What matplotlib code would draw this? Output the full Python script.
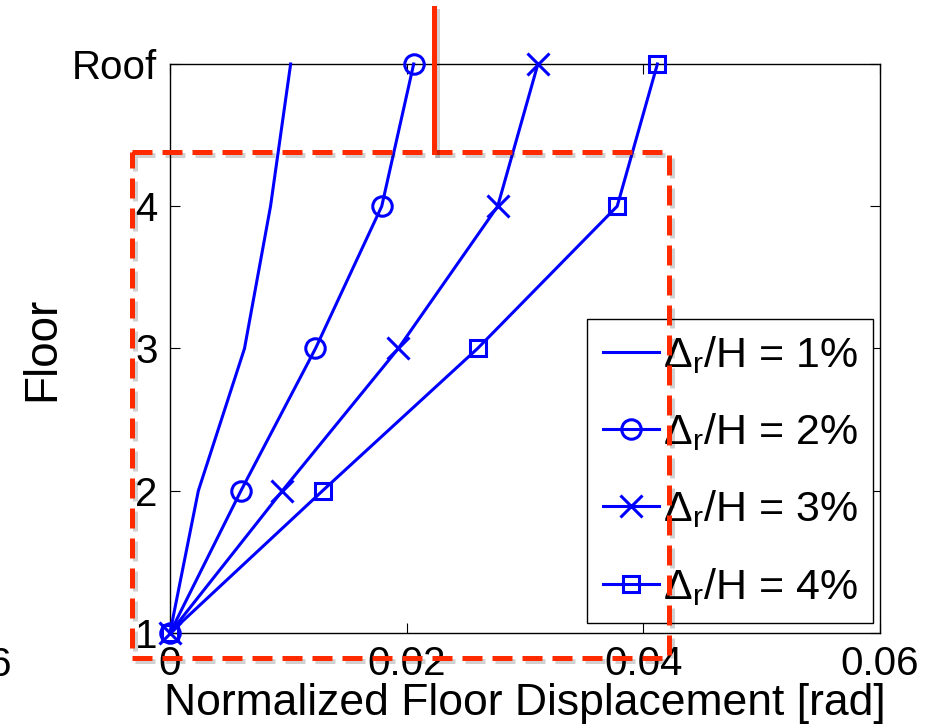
import matplotlib
matplotlib.use('Agg')
import matplotlib.pyplot as plt
import matplotlib.patheffects as pe

plt.rcParams['font.family'] = ['Liberation Sans', 'DejaVu Sans']
plt.rcParams['mathtext.fontset'] = 'custom'
plt.rcParams['mathtext.rm'] = 'Liberation Sans'
plt.rcParams['mathtext.it'] = 'Liberation Sans'

# data
floors = [1, 2, 3, 4, 5]
floor_labels = ['1', '2', '3', '4', 'Roof']
disp_1 = [0, 0.0024, 0.0063, 0.0085, 0.0102]
disp_2 = [0, 0.0060, 0.0123, 0.0179, 0.0206]
disp_3 = [0, 0.0095, 0.0193, 0.0277, 0.0311]
disp_4 = [0, 0.0129, 0.0260, 0.0378, 0.0412]
series_labels = [r'$\Delta_\mathrm{r}$/H = 1%', r'$\Delta_\mathrm{r}$/H = 2%',
                 r'$\Delta_\mathrm{r}$/H = 3%', r'$\Delta_\mathrm{r}$/H = 4%']
x_ticks = [0, 0.02, 0.04, 0.06]
x_ticklabels = ['0', '0.02', '0.04', '0.06']

fig = plt.figure(figsize=(9.39, 7.27), dpi=100)
ax = fig.add_axes([0.181, 0.1293, 0.756, 0.7827])

blue = '#0000ff'
kw = dict(color=blue, lw=2.2, clip_on=False, zorder=5)
ax.plot(disp_1, floors, label=series_labels[0], **kw)
ax.plot(disp_2, floors, marker='o', ms=14, mfc='none', mew=2.2, label=series_labels[1], **kw)
ax.plot(disp_3, floors, marker='x', ms=16, mew=2.2, label=series_labels[2], **kw)
ax.plot(disp_4, floors, marker='s', ms=11, mfc='none', mew=2.2, label=series_labels[3], **kw)

ax.set_xlim(0, 0.06)
ax.set_ylim(1, 5)
ax.set_xticks(x_ticks)
ax.set_xticklabels(x_ticklabels)
ax.set_yticks(floors)
ax.set_yticklabels(floor_labels)
ax.tick_params(direction='in', length=7, width=0.8, top=True, right=True,
               labelsize=29, pad=9)
for s in ax.spines.values():
    s.set_linewidth(1.0)
ax.set_xlabel('Normalized Floor Displacement [rad]', fontsize=32, labelpad=0)
ax.set_ylabel('Floor', fontsize=33, labelpad=6)

leg = ax.legend(loc='lower right', bbox_to_anchor=(0.99, 0.018), fontsize=31,
                numpoints=1, handlelength=1.3, handletextpad=0.1,
                borderpad=0.35, labelspacing=0.82, borderaxespad=0,
                fancybox=False, edgecolor='black', framealpha=1)
leg.get_frame().set_linewidth(1.0)
leg.set_zorder(6)

# piece of the neighbouring panel's tick label
fig.text(0.013, 1 - 665 / 727, '0.06', fontsize=29, ha='right', va='center')

# red annotation overlay
red = '#ff2a00'
shadow = [pe.SimpleLineShadow(offset=(2, -2), alpha=0.18), pe.Normal()]
rx0, rx1 = -0.0032, 0.0422
ry0, ry1 = 0.824, 4.38
ax.plot([rx0, rx1, rx1, rx0, rx0], [ry1, ry1, ry0, ry0, ry1], color=red, lw=3.6,
        ls=(0, (4, 2)), clip_on=False, zorder=10, path_effects=shadow)
ax.plot([0.0223, 0.0223], [ry1, 5.39], color=red, lw=3.6, clip_on=False,
        zorder=10, path_effects=shadow)

fig.savefig('out.png', dpi=100)
